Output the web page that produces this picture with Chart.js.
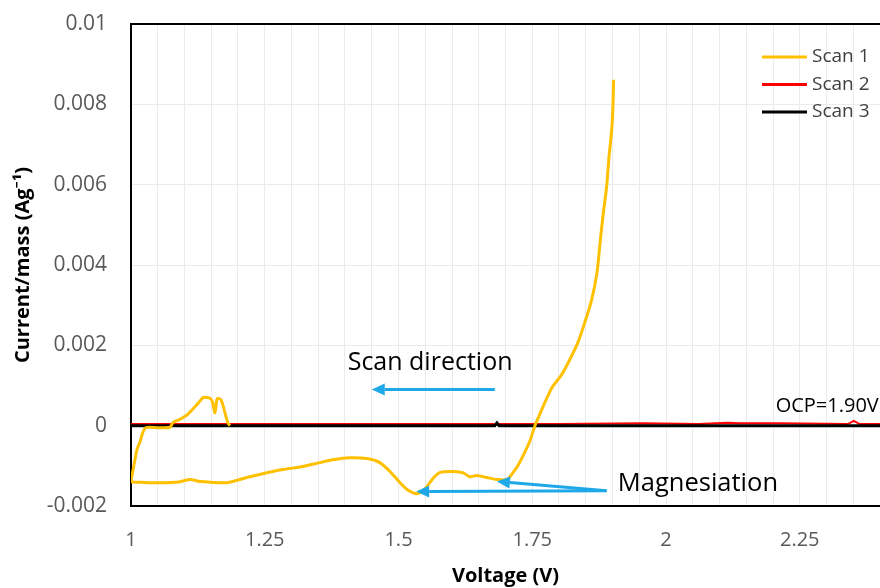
<!DOCTYPE html>
<html>
<head>
<meta charset="utf-8">
<script src="https://cdn.jsdelivr.net/npm/chart.js@4.4.0/dist/chart.umd.min.js"></script>
<style>
  html, body { margin: 0; padding: 0; background: #fff; }
</style>
</head>
<body>
<canvas id="chart" width="880" height="588"></canvas>
<script>
// Scan 1 (ordered along the scan path)
const scan1V = [1.902, 1.901, 1.899, 1.893, 1.889, 1.882, 1.876, 1.871, 1.861, 1.848, 1.835, 1.820, 1.805, 1.787, 1.770, 1.762, 1.755, 1.745, 1.732, 1.722, 1.714, 1.703,
  1.684, 1.665, 1.646, 1.633, 1.620, 1.596, 1.577, 1.564, 1.553, 1.540, 1.531, 1.516, 1.503, 1.484, 1.465, 1.441, 1.409, 1.377, 1.353, 1.316, 1.284, 1.254, 1.222,
  1.179, 1.129, 1.110, 1.090, 1.054, 1.020, 1.003, 1.000, 1.004, 1.011, 1.017, 1.022, 1.028, 1.050, 1.073, 1.078, 1.090, 1.105, 1.123, 1.135, 1.142, 1.148, 1.152,
  1.157, 1.161, 1.168, 1.174, 1.181, 1.185];
const scan1I = [0.00861, 0.00803, 0.00744, 0.00662, 0.00595, 0.00520, 0.00445, 0.00381, 0.00313, 0.00256, 0.00206, 0.00164, 0.00127, 0.00095, 0.00047, 0.00022, 0.00000, -0.00040, -0.00077, -0.00102, -0.00117, -0.00134,
  -0.00134, -0.00129, -0.00124, -0.00127, -0.00117, -0.00114, -0.00117, -0.00132, -0.00152, -0.00167, -0.00169, -0.00159, -0.00142, -0.00114, -0.00092, -0.00082, -0.00080, -0.00085, -0.00092, -0.00103, -0.00109, -0.00117, -0.00127,
  -0.00142, -0.00139, -0.00134, -0.00140, -0.00142, -0.00141, -0.00140, -0.00139, -0.00109, -0.00060, -0.00040, -0.00017, -0.00005, -0.00005, -0.00004, 0.00007, 0.00015, 0.00027, 0.00052, 0.00070, 0.00070, 0.00068, 0.00060,
  0.00032, 0.00067, 0.00065, 0.00040, 0.00007, 0.00000];

// Scan 2
const scan2V = [1.000, 1.200, 1.400, 1.600, 1.800, 1.957, 2.061, 2.115, 2.136, 2.213, 2.340, 2.351, 2.362, 2.400];
const scan2I = [0.00004, 0.00004, 0.00004, 0.00004, 0.00004, 0.00006, 0.00004, 0.00007, 0.00006, 0.00006, 0.00004, 0.00012, 0.00004, 0.00004];

// Scan 3
const scan3V = [1.000, 1.300, 1.600, 1.680, 1.684, 1.688, 1.900, 2.100, 2.400];
const scan3I = [0.00000, 0.00000, 0.00000, 0.00000, 0.00007, 0.00000, 0.00000, 0.00000, 0.00000];

const seriesNames = ['Scan 1', 'Scan 2', 'Scan 3'];
const seriesColors = ['#FFC000', '#FF0000', '#000000'];

// axis ticks
const xMin = 1, xMax = 2.4, xGridStep = 0.05, xLabelStep = 0.25;
const yMin = -0.002, yMax = 0.01, yStep = 0.002;

const FONT = "'Open Sans', 'Noto Sans', sans-serif";
const ARROW = '#1FA8E8';

// annotations in data units
const notes = [
  { text: 'Scan direction', x: 1.405, y: 0.00157, size: 25 },
  { text: 'Magnesiation', x: 1.910, y: -0.00144, size: 25.5 },
  { text: 'OCP=1.90V', x: 2.205, y: 0.00047, size: 20 }
];
const arrows = [
  { from: [1.680, 0.0009], to: [1.450, 0.0009] },
  { from: [1.889, -0.00162], to: [1.533, -0.00164] },
  { from: [1.889, -0.00162], to: [1.684, -0.00139] }
];

function pts(vs, is) {
  return vs.map((v, i) => ({ x: v, y: is[i] }));
}

function noPad(s) {
  s.paddingLeft = 0; s.paddingRight = 0; s.paddingTop = 0; s.paddingBottom = 0;
}

const frame = {
  id: 'frame',
  afterDatasetsDraw(chart) {
    const { ctx, chartArea, scales } = chart;
    ctx.save();
    // top border
    ctx.strokeStyle = '#000';
    ctx.lineWidth = 2;
    ctx.beginPath();
    ctx.moveTo(chartArea.left, chartArea.top);
    ctx.lineTo(chartArea.right, chartArea.top);
    ctx.stroke();

    // arrows
    ctx.strokeStyle = ARROW;
    ctx.fillStyle = ARROW;
    ctx.lineWidth = 3;
    arrows.forEach(a => {
      const x1 = scales.x.getPixelForValue(a.from[0]), y1 = scales.y.getPixelForValue(a.from[1]);
      const x2 = scales.x.getPixelForValue(a.to[0]), y2 = scales.y.getPixelForValue(a.to[1]);
      const ang = Math.atan2(y2 - y1, x2 - x1);
      const hl = 13, hw = 6;
      const bx = x2 - hl * Math.cos(ang), by = y2 - hl * Math.sin(ang);
      ctx.beginPath();
      ctx.moveTo(x1, y1);
      ctx.lineTo(bx, by);
      ctx.stroke();
      ctx.beginPath();
      ctx.moveTo(x2, y2);
      ctx.lineTo(bx + hw * Math.sin(ang), by - hw * Math.cos(ang));
      ctx.lineTo(bx - hw * Math.sin(ang), by + hw * Math.cos(ang));
      ctx.closePath();
      ctx.fill();
    });

    // text notes
    ctx.fillStyle = '#000';
    ctx.textAlign = 'left';
    ctx.textBaseline = 'middle';
    notes.forEach(n => {
      ctx.font = n.size + 'px ' + FONT;
      ctx.fillText(n.text, scales.x.getPixelForValue(n.x), scales.y.getPixelForValue(n.y));
    });

    // legend
    const ds = chart.data.datasets;
    ctx.font = '19px ' + FONT;
    ds.forEach((d, i) => {
      const y = chartArea.top + 33 + i * 27.5;
      const x = chartArea.right - 118;
      ctx.strokeStyle = d.borderColor;
      ctx.lineWidth = 3;
      ctx.beginPath();
      ctx.moveTo(x, y);
      ctx.lineTo(x + 45, y);
      ctx.stroke();
      ctx.fillStyle = '#404040';
      ctx.fillText(d.label, x + 50, y);
    });
    ctx.restore();
  }
};

new Chart(document.getElementById('chart'), {
  type: 'scatter',
  data: {
    datasets: [
      { label: seriesNames[0], data: pts(scan1V, scan1I), borderColor: seriesColors[0], borderWidth: 3, tension: 0.25, order: 0 },
      { label: seriesNames[1], data: pts(scan2V, scan2I), borderColor: seriesColors[1], borderWidth: 2, order: 2 },
      { label: seriesNames[2], data: pts(scan3V, scan3I), borderColor: seriesColors[2], borderWidth: 3, order: 1 }
    ]
  },
  options: {
    responsive: false,
    animation: false,
    showLine: true,
    elements: { point: { radius: 0 }, line: { tension: 0 } },
    layout: { padding: { top: 24, right: 0, bottom: 0, left: 0 } },
    plugins: {
      legend: { display: false },
      tooltip: { enabled: false }
    },
    scales: {
      x: {
        type: 'linear',
        min: xMin,
        max: xMax,
        afterFit: (s) => { s.height = 82; noPad(s); },
        grid: { color: '#ebebeb', drawTicks: false },
        border: { color: '#000', width: 2 },
        ticks: {
          stepSize: xGridStep,
          autoSkip: false,
          maxRotation: 0,
          padding: 22,
          color: '#595959',
          font: { family: FONT, size: 20 },
          callback: (v) => {
            const k = v / xLabelStep;
            if (Math.abs(k - Math.round(k)) > 1e-6 || v > 2.3) return '';
            return String(Math.round(v * 100) / 100);
          }
        },
        title: {
          display: true,
          text: 'Voltage (V)',
          color: '#000',
          font: { family: FONT, size: 20, weight: 'bold' },
          padding: { top: 0, bottom: 0 }
        }
      },
      y: {
        min: yMin,
        max: yMax,
        afterFit: (s) => { s.width = 131; noPad(s); },
        grid: { color: '#ebebeb', drawTicks: false },
        border: { color: '#000', width: 2 },
        ticks: {
          stepSize: yStep,
          padding: 24,
          color: '#595959',
          font: { family: FONT, size: 21 },
          callback: (v) => String(Math.round(v * 1000) / 1000)
        },
        title: {
          display: true,
          text: 'Current/mass (Ag\u207B\u00B9)',
          color: '#000',
          font: { family: FONT, size: 20, weight: 'bold' },
          padding: { top: 11, bottom: 0 }
        }
      }
    }
  },
  plugins: [frame]
});
</script>
</body>
</html>
